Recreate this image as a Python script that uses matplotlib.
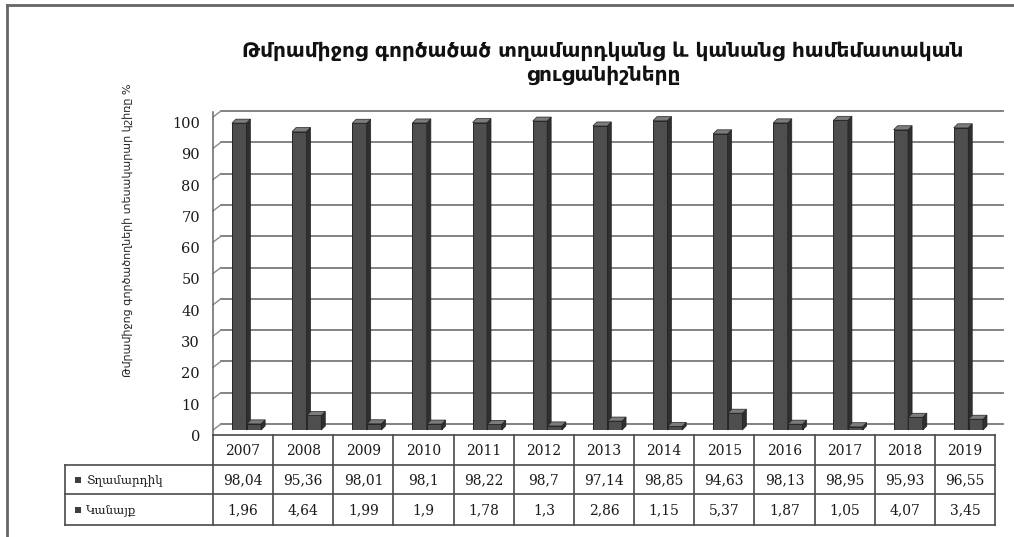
import matplotlib
matplotlib.use("Agg")
import matplotlib.pyplot as plt
import matplotlib.transforms as mtransforms
from matplotlib.lines import Line2D
from matplotlib.patches import Polygon, Rectangle
import numpy as np

# share of drug users by sex, %
years = ["2007", "2008", "2009", "2010", "2011", "2012", "2013",
         "2014", "2015", "2016", "2017", "2018", "2019"]
men = [98.04, 95.36, 98.01, 98.1, 98.22, 98.7, 97.14,
       98.85, 94.63, 98.13, 98.95, 95.93, 96.55]
women = [1.96, 4.64, 1.99, 1.9, 1.78, 1.3, 2.86,
         1.15, 5.37, 1.87, 1.05, 4.07, 3.45]
series_names = ["Տղամարդիկ", "Կանայք"]
title = "Թմրամիջոց գործածած տղամարդկանց և կանանց համեմատական\nցուցանիշները"
ylabel = "Թմրամիջոց գործածողների տեսակարար կշիռը %"
yticks = list(range(0, 101, 10))

W, H = 1014, 537
fig = plt.figure(figsize=(W / 100, H / 100), dpi=100)
fig.patch.set_facecolor("white")

def fx(px):
    return px / W

def fy(py):
    return 1 - py / H

serif = ["DejaVu Serif", "DejaVu Sans"]

ax = fig.add_axes([fx(213), fy(430), fx(995) - fx(213), (430 - 117) / H])
ax.set_xlim(-0.5, len(years) - 0.5)
ax.set_ylim(0, 100)
ax.axis("off")

x = np.arange(len(years))

# back wall gridlines (shifted for the 3d look) + small diagonals on the side wall
back = ax.transData + mtransforms.ScaledTranslation(0.08, 0.06, fig.dpi_scale_trans)
for v in yticks:
    ax.plot([-0.5, len(years) - 0.5], [v, v], color="#7a7a7a", lw=1.3,
            transform=back, clip_on=False, zorder=1)
    p0 = ax.transData.transform((-0.5, v))
    ax.add_line(Line2D([p0[0], p0[0] + 8], [p0[1], p0[1] + 6], color="#8a8a8a",
                       lw=1.0, transform=mtransforms.IdentityTransform(),
                       clip_on=False, zorder=1))
    ax.text(-0.5, v, str(v), transform=ax.transData + mtransforms.ScaledTranslation(-0.13, -0.07, fig.dpi_scale_trans),
            ha="right", va="center", fontsize=10.5, family=serif, color="#1a1a1a")

# front left edge
p_top = ax.transData.transform((-0.5, 100))
p_bot = ax.transData.transform((-0.5, 0))
ax.add_line(Line2D([p_top[0], p_top[0]], [p_top[1] + 5, p_bot[1] - 5], color="#666666", lw=1.1,
                   transform=mtransforms.IdentityTransform(), clip_on=False))

front_c, side_c, top_c = "#4e4e4e", "#2f2f2f", "#7c7c7c"
bw = 0.24
d = 4
ident = mtransforms.IdentityTransform()

def draw_bars(xpos, vals):
    ax.bar(xpos, vals, width=bw, color=front_c, edgecolor="#262626", lw=0.7, zorder=3)
    for xc, h in zip(xpos, vals):
        xl, yb = ax.transData.transform((xc - bw / 2, 0))
        xr, yt = ax.transData.transform((xc + bw / 2, h))
        ax.add_patch(Polygon([(xr, yb), (xr + d, yb + d), (xr + d, yt + d), (xr, yt)],
                             closed=True, facecolor=side_c, edgecolor="#222222", lw=0.5,
                             transform=ident, clip_on=False, zorder=3))
        ax.add_patch(Polygon([(xl, yt), (xl + d, yt + d), (xr + d, yt + d), (xr, yt)],
                             closed=True, facecolor=top_c, edgecolor="#222222", lw=0.5,
                             transform=ident, clip_on=False, zorder=3))

draw_bars(x - 0.065, men)
draw_bars(x + 0.18, women)

# data table under the plot
tcol = mtransforms.blended_transform_factory(ax.transData, fig.transFigure)
line_kw = dict(color="#4a4a4a", lw=1.2)
edges = np.arange(len(years) + 1) - 0.5
fig.add_artist(Line2D([edges[0], edges[-1]], [fy(435), fy(435)], transform=tcol, **line_kw))
for e in edges:
    fig.add_artist(Line2D([e, e], [fy(435), fy(525)], transform=tcol, **line_kw))
for yy in (465, 494, 525):
    fig.add_artist(Line2D([fx(65), fx(995)], [fy(yy), fy(yy)], **line_kw))
fig.add_artist(Line2D([fx(65), fx(65)], [fy(465), fy(525)], **line_kw))

cell_kw = dict(transform=tcol, ha="center", va="center", fontsize=10,
               family=serif, color="#1a1a1a")
for i, yr in enumerate(years):
    fig.text(i, fy(451), yr, **cell_kw)
    fig.text(i, fy(480), str(men[i]).replace(".", ","), **cell_kw)
    fig.text(i, fy(510), str(women[i]).replace(".", ","), **cell_kw)

for name, yy in zip(series_names, (480, 510)):
    fig.add_artist(Rectangle((fx(75), fy(yy + 3)), 6 / W, 6 / H, facecolor="#3e3e3e",
                             edgecolor="none"))
    fig.text(fx(86), fy(yy), name, ha="left", va="center", fontsize=8.5,
             family=serif, color="#1a1a1a")

fig.text(fx(603), fy(63), title, ha="center", va="center", fontsize=14.5,
         fontweight="bold", family=["DejaVu Sans"], color="#111111", linespacing=1.3)

fig.text(fx(128), fy(230), ylabel, rotation=90, ha="center", va="center",
         fontsize=8, family=["DejaVu Sans"], color="#222222")

# outer frame (only left and top edges are in view)
fig.add_artist(Line2D([fx(7), fx(7)], [0, fy(5)], color="#666666", lw=2))
fig.add_artist(Line2D([fx(7), 1], [fy(5), fy(5)], color="#666666", lw=2))

fig.savefig("out.png", dpi=100, facecolor="white")
